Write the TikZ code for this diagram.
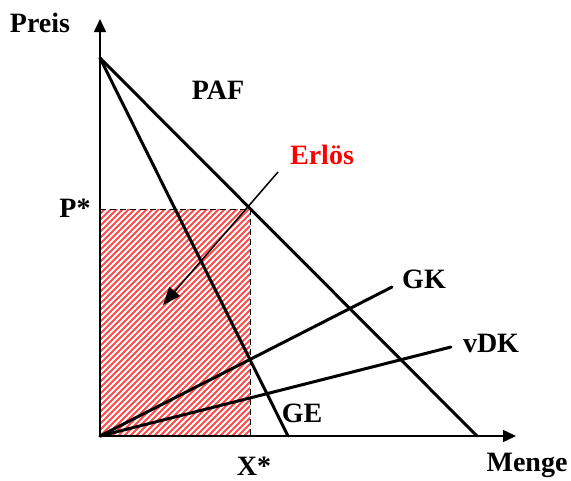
\documentclass[tikz,border=0pt]{standalone}
\usepackage{fontspec}
\setmainfont{Liberation Serif}
\usepackage{xcolor}
\definecolor{erloesRed}{HTML}{FF0000}
\definecolor{hatchRed}{HTML}{FF4A4A}
\usetikzlibrary{arrows.meta}

\begin{document}
\begin{tikzpicture}[x=1pt, y=-1pt, >={Triangle[length=13pt, width=12pt]},
  lbl/.style={font=\fontsize{28}{30}\selectfont\bfseries, inner sep=0pt},
  curve/.style={line width=3pt, line cap=round},
  axis/.style={line width=1.5pt, ->}]
  \useasboundingbox (0,0) rectangle (571,480);
  % axes and end points
  \coordinate (O) at (100,436);
  \coordinate (ytop) at (100,19);
  \coordinate (xend) at (516,436);
  \coordinate (A) at (100,58);
  \coordinate (paf) at (477,436);
  \coordinate (ge) at (288,436);
  \coordinate (opt) at (250,209);
  \coordinate (pstar) at (100,209);
  \coordinate (xstar) at (250,436);
  \coordinate (gk) at (392,287);
  \coordinate (vdk) at (451,347);
  % revenue area
  \begin{scope}
    \clip (pstar) rectangle (xstar);
    \foreach \i in {0,...,70} {
      \draw[hatchRed, line width=2pt] ({100+\i*6-240},436) -- ++(240,-240);
    }
  \end{scope}
  \draw[line width=1pt, dash pattern=on 6pt off 4pt] (pstar) -- (opt) -- (xstar);
  \draw[axis] (O) -- (ytop);
  \draw[axis] (O) -- (xend);
  \draw[curve] (A) -- (paf);
  \draw[curve] (A) -- (ge);
  \draw[curve] (O) -- (gk);
  \draw[curve] (O) -- (vdk);
  % labels
  \node[lbl] (preis) at (40,23) {Preis};
  \node[lbl] (menge) at (527,465) {Menge};
  \node[lbl] (pafl) at (218,90) {PAF};
  \node[lbl, text=erloesRed] (erl) at (322,155) {Erlös};
  \node[lbl] (pl) at (75,208) {P*};
  \node[lbl] (xl) at (254,466) {X*};
  \node[lbl] (gel) at (302,413) {GE};
  \node[lbl] (gkl) at (424,279) {GK};
  \node[lbl] (vdkl) at (491,343) {vDK};
  \coordinate (erlstart) at (278,172);
  \coordinate (erltip) at (163,305);
  \draw[->, line width=1.5pt, >={Triangle[length=18pt, width=14pt]}] (erlstart) -- (erltip);
\end{tikzpicture}
\end{document}
